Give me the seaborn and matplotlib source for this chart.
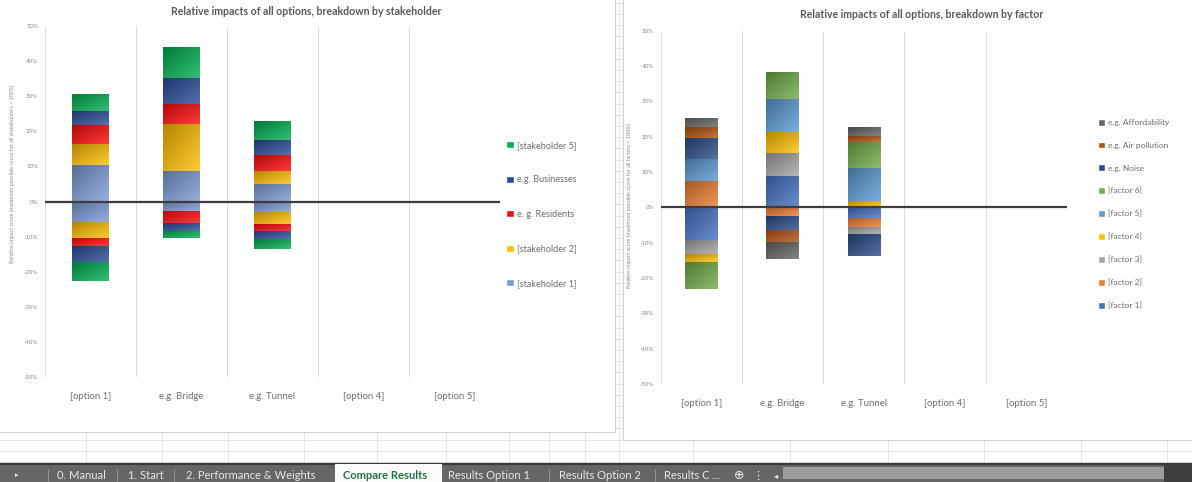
import numpy as np
import matplotlib
matplotlib.use("Agg")
import matplotlib.pyplot as plt
import seaborn as sns
from matplotlib.patches import Rectangle, Patch
from matplotlib.ticker import FuncFormatter

sns.set_theme(style="white")
plt.rcParams["font.family"] = ["Lato", "DejaVu Sans"]

# ---------------------------------------------------------------- data
options = ["[option 1]", "e.g. Bridge", "e.g. Tunnel", "[option 4]", "[option 5]"]

# Breakdown by stakeholder (% of maximum possible score), positive and negative parts
stakeholders = ["[stakeholder 1]", "[stakeholder 2]", "e. g. Residents",
                "e.g. Businesses", "[stakeholder 5]"]
stakeholder1_pos = [10.5, 8.8, 5.0, 0, 0]
stakeholder2_pos = [5.9, 13.2, 3.8, 0, 0]
residents_pos = [5.4, 5.7, 4.5, 0, 0]
businesses_pos = [4.0, 7.5, 4.1, 0, 0]
stakeholder5_pos = [4.7, 8.8, 5.4, 0, 0]
stakeholder1_neg = [-5.9, -2.7, -3.0, 0, 0]
stakeholder2_neg = [-4.5, 0, -3.5, 0, 0]
residents_neg = [-2.4, -3.5, -1.9, 0, 0]
businesses_neg = [-4.5, -2.1, -2.4, 0, 0]
stakeholder5_neg = [-5.4, -2.0, -2.7, 0, 0]

# Breakdown by factor (% of maximum possible score), positive and negative parts
factors = ["[factor 1]", "[factor 2]", "[factor 3]", "[factor 4]", "[factor 5]",
           "[factor 6]", "e.g. Noise", "e.g. Air pollution", "e.g. Affordability"]
factor1_pos = [0, 8.95, 0, 0, 0]
factor2_pos = [7.4, 0, 0, 0, 0]
factor3_pos = [0, 6.35, 0, 0, 0]
factor4_pos = [0, 6.1, 1.9, 0, 0]
factor5_pos = [6.2, 9.3, 9.2, 0, 0]
factor6_pos = [0, 7.5, 7.5, 0, 0]
noise_pos = [6.1, 0, 0, 0, 0]
air_pos = [3.1, 0, 1.6, 0, 0]
afford_pos = [2.6, 0, 2.5, 0, 0]
factor1_neg = [-9.3, 0, -2.9, 0, 0]
factor2_neg = [0, -2.5, -2.6, 0, 0]
factor3_neg = [-3.9, 0, -2.1, 0, 0]
factor4_neg = [-2.2, 0, 0, 0, 0]
factor5_neg = [0, 0, 0, 0, 0]
factor6_neg = [-7.6, 0, 0, 0, 0]
noise_neg = [0, -3.9, -6.2, 0, 0]
air_neg = [0, -3.5, 0, 0, 0]
afford_neg = [0, -4.8, 0, 0, 0]

stakeholder_colors = ["#7d9bd6", "#ffbf00", "#ff0a0a", "#2a4c98", "#00b050"]
factor_colors = ["#4472c4", "#ed7d31", "#a5a5a5", "#ffc000", "#5b9bd5",
                 "#70ad47", "#2a4c8a", "#b4520f", "#666666"]

# ---------------------------------------------------------------- figure
W, H = 1192, 482
fig = plt.figure(figsize=(W / 100, H / 100), dpi=100)
fig.patch.set_facecolor("white")


def frac(x0, y_top, x1, y_bot):
    return [x0 / W, 1 - y_bot / H, (x1 - x0) / W, (y_bot - y_top) / H]


# spreadsheet background, chart areas and sheet tabs
bg = fig.add_axes([0, 0, 1, 1], zorder=-10)
bg.set_xlim(0, W)
bg.set_ylim(H, 0)
bg.axis("off")
for y in np.arange(462, 0, -11.2):
    bg.plot([0, W], [y, y], color="#e2e2e2", lw=0.6, zorder=1)
for x in [86, 162, 228, 304, 377, 446, 509, 549, 585, 619, 693, 790, 888, 984, 1081, 1167]:
    bg.plot([x, x], [0, 462], color="#e2e2e2", lw=0.6, zorder=1)
bg.add_patch(Rectangle((-2, -2), 617, 434, facecolor="white", edgecolor="#d0d0d0",
                       lw=0.8, zorder=3))
bg.add_patch(Rectangle((623, -2), 575, 442, facecolor="white", edgecolor="#d0d0d0",
                       lw=0.8, zorder=3))

bg.add_patch(Rectangle((0, 463), W, 20, facecolor="#666666", edgecolor="none", zorder=4))
bg.plot([0, W], [463.6, 463.6], color="#3a3a3a", lw=1.6, zorder=5)
bg.add_patch(Rectangle((335, 464.4), 107, 18, facecolor="#fbfbfb", edgecolor="none", zorder=5))
bg.add_patch(Rectangle((783, 467), 381, 12, facecolor="#9c9c9c", edgecolor="none", zorder=5))
bg.add_patch(Rectangle((1164, 464.4), 30, 18, facecolor="#3e3e3e", edgecolor="none", zorder=5))
tab_y = 475.5
tab_txt = dict(fontsize=8, color="#e8e8e8", va="center", ha="left", zorder=6)
for x, label in [(57, "0. Manual"), (128, "1. Start"), (186, "2. Performance & Weights"),
                 (448, "Results Option 1"), (559, "Results Option 2"), (664, "Results C ...")]:
    bg.text(x, tab_y, label, **tab_txt)
bg.text(343, tab_y, "Compare Results", fontsize=8, color="#217346", fontweight="bold",
        va="center", ha="left", zorder=6)
for x in [48, 117, 174, 549, 655]:
    bg.plot([x, x], [469, 481], color="#9a9a9a", lw=0.6, zorder=6)
for x, sym, fs in [(17, "▸", 5), (739, "⊕", 9), (758, "⋮", 8), (776, "◂", 6)]:
    bg.text(x, tab_y, sym, fontsize=fs, color="#eeeeee", va="center", ha="center",
            family=["DejaVu Sans"], zorder=6)


def draw_stack(ax, pos_series, neg_series, colors):
    for group in (pos_series, neg_series):
        base = np.zeros(len(options))
        for vals, col in zip(group, colors):
            vals = np.asarray(vals, dtype=float)
            sns.barplot(x=options, y=vals, bottom=base, color=col, width=0.4,
                        saturation=1, linewidth=0, errorbar=None, ax=ax, zorder=2)
            base = base + vals


def shade_bars(ax):
    # diagonal gradient fill on each bar segment, darker at the top-left
    u = np.linspace(0, 1, 48)
    xx, yy = np.meshgrid(u, u)
    t = ((xx + yy) / 2)[..., None]
    for p in list(ax.patches):
        h = p.get_height()
        if abs(h) < 1e-9:
            continue
        base = np.array(p.get_facecolor()[:3])
        dark = base * 0.7
        light = base + (1 - base) * 0.2
        img = dark * (1 - t) + light * t
        x0, w = p.get_x(), p.get_width()
        y0 = p.get_y()
        lo, hi = min(y0, y0 + h), max(y0, y0 + h)
        im = ax.imshow(img, extent=(x0, x0 + w, lo, hi), origin="upper",
                       aspect="auto", interpolation="bilinear", zorder=2.5)
        im.set_clip_path(p)


def style_axes(ax, ylabel, label_xy):
    ax.set_facecolor("none")
    ax.set_xlim(-0.5, len(options) - 0.5)
    ax.set_ylim(-50, 50)
    ax.set_yticks(np.arange(-50, 51, 10))
    ax.yaxis.set_major_formatter(FuncFormatter(lambda v, _: f"{v:.0f}%"))
    ax.set_xticks(range(len(options)))
    ax.set_xticklabels(options)
    ax.tick_params(axis="y", labelsize=4.4, colors="#8a8a8a", length=0, pad=5)
    ax.tick_params(axis="x", labelsize=6.9, colors="#6e6e6e", length=0, pad=11)
    for s in ax.spines.values():
        s.set_visible(False)
    for xb in np.arange(-0.5, len(options), 1):
        ax.axvline(xb, color="#dcdcdc", lw=0.7, zorder=0)
    ax.axhline(0, color="#3c3c3c", lw=1.6, zorder=5)
    ax.set_xlabel("")
    ax.set_ylabel(ylabel, fontsize=3.9, color="#8a8a8a")
    ax.yaxis.set_label_coords(*label_xy)
    ax.grid(False)


# ---------------------------------------------------------------- stakeholder chart
ax1 = fig.add_axes(frac(45, 26, 500, 377))
draw_stack(ax1,
           [stakeholder1_pos, stakeholder2_pos, residents_pos, businesses_pos, stakeholder5_pos],
           [stakeholder1_neg, stakeholder2_neg, residents_neg, businesses_neg, stakeholder5_neg],
           stakeholder_colors)
shade_bars(ax1)
style_axes(ax1, "Relative impact score (maximum possible score for all stakeholders = 100%)",
           (-0.066, 0.58))
fig.text(306 / W, 1 - 11.5 / H, "Relative impacts of all options, breakdown by stakeholder",
         ha="center", va="center", fontsize=7.6, fontweight="bold", color="#595959")
fig.legend(handles=[Patch(facecolor=c, label=l)
                    for l, c in zip(stakeholders[::-1], stakeholder_colors[::-1])],
           loc="upper left", bbox_to_anchor=(506 / W, 1 - 141 / H), frameon=False,
           fontsize=6.6, labelcolor="#6e6e6e", handlelength=0.85, handleheight=0.85,
           handletextpad=0.3, labelspacing=2.78, borderpad=0, borderaxespad=0)

# ---------------------------------------------------------------- factor chart
ax2 = fig.add_axes(frac(660.7, 30.7, 1067, 384))
draw_stack(ax2,
           [factor1_pos, factor2_pos, factor3_pos, factor4_pos, factor5_pos, factor6_pos,
            noise_pos, air_pos, afford_pos],
           [factor1_neg, factor2_neg, factor3_neg, factor4_neg, factor5_neg, factor6_neg,
            noise_neg, air_neg, afford_neg],
           factor_colors)
shade_bars(ax2)
style_axes(ax2, "Relative impact score (maximum possible score for all factors = 100%)",
           (-0.07, 0.504))
fig.text(922 / W, 1 - 14 / H, "Relative impacts of all options, breakdown by factor",
         ha="center", va="center", fontsize=7.6, fontweight="bold", color="#595959")
fig.legend(handles=[Patch(facecolor=c, label=l)
                    for l, c in zip(factors[::-1], factor_colors[::-1])],
           loc="upper left", bbox_to_anchor=(1098 / W, 1 - 119 / H), frameon=False,
           fontsize=6.0, labelcolor="#6e6e6e", handlelength=0.85, handleheight=0.85,
           handletextpad=0.3, labelspacing=1.86, borderpad=0, borderaxespad=0)

fig.savefig("out.png", dpi=100)
